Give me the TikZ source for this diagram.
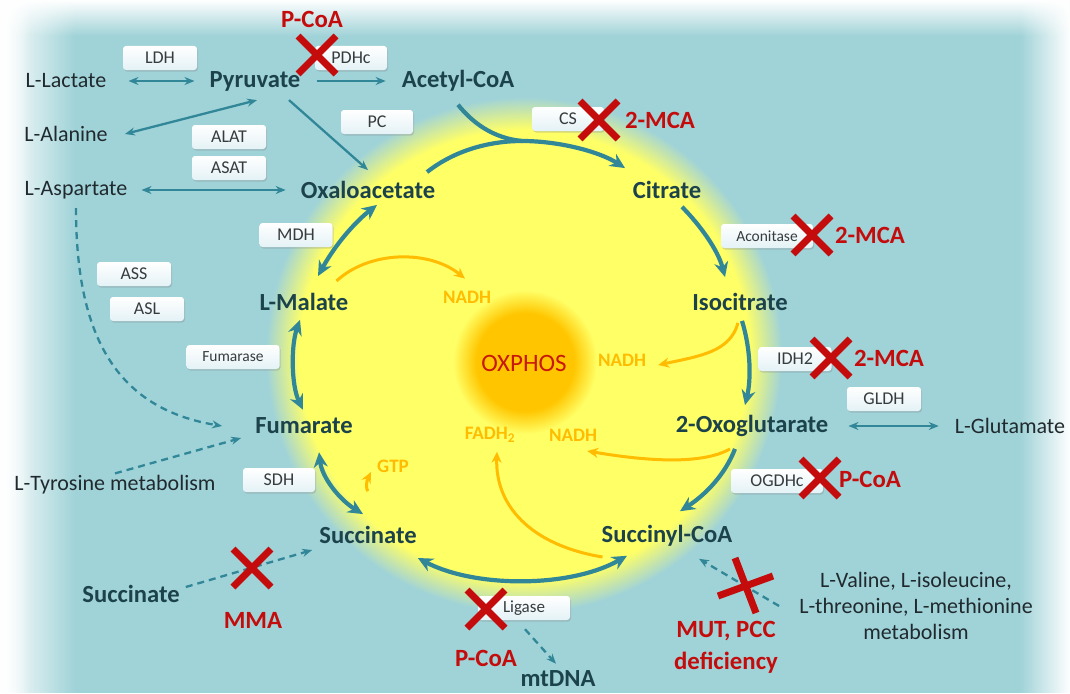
\documentclass[tikz,border=0pt]{standalone}
\usepackage{fontspec}
\setmainfont{Carlito}
\usetikzlibrary{arrows.meta,shadows,fadings,calc}
\definecolor{bgteal}{RGB}{160,211,216}
\definecolor{glowyel}{RGB}{255,255,102}
\definecolor{oxo}{RGB}{255,198,0}
\definecolor{arr}{RGB}{49,135,152}
\definecolor{metc}{RGB}{28,66,76}
\definecolor{regc}{RGB}{32,42,46}
\definecolor{redx}{RGB}{196,12,12}
\definecolor{orng}{RGB}{255,188,0}
\definecolor{oxred}{RGB}{200,24,10}
\definecolor{boxb}{RGB}{228,242,246}
\definecolor{enzt}{RGB}{55,60,62}
\pgfdeclareradialshading{glow}{\pgfpoint{0bp}{0bp}}{color(0bp)=(glowyel); color(21.8bp)=(glowyel); color(25bp)=(bgteal); color(50bp)=(bgteal)}
\pgfdeclareradialshading{sun}{\pgfpoint{0bp}{0bp}}{color(0bp)=(oxo); color(17bp)=(oxo); color(25bp)=(glowyel); color(50bp)=(glowyel)}
\tikzfading[name=fadeR, left color=transparent!0, right color=transparent!100]
\tikzfading[name=fadeL, left color=transparent!100, right color=transparent!0]
\tikzfading[name=fadeD, top color=transparent!0, bottom color=transparent!100]
\begin{document}
\begin{tikzpicture}[x=1pt,y=-1pt,
  met/.style={font=\bfseries\fontsize{24.6}{28}\selectfont, text=metc, inner sep=0pt},
  reg/.style={font=\fontsize{22}{26}\selectfont, text=regc, inner sep=0pt},
  enz/.style={top color=white, bottom color=boxb, rounded corners=3pt, minimum height=24pt, inner sep=2pt,
     font=\fontsize{18}{20}\selectfont, text=enzt,
     drop shadow={shadow xshift=1pt, shadow yshift=-1.5pt, opacity=0.3}},
  enzs/.style={enz, font=\fontsize{15.5}{18}\selectfont},
  redl/.style={font=\bfseries\fontsize{24.8}{27}\selectfont, text=redx, inner sep=0pt},
  orl/.style={font=\bfseries\fontsize{19}{22}\selectfont, text=orng, inner sep=0pt},
  sd/.style={draw=arr, line width=2.3pt, -{Stealth[length=10pt,width=8pt]}},
  sdd/.style={sd, {Stealth[length=10pt,width=8pt]}-{Stealth[length=10pt,width=8pt]}},
  dsh/.style={sd, dash pattern=on 7pt off 5pt},
  cyc/.style={draw=arr, line width=4.2pt, -{Stealth[length=15pt,width=14pt]}},
  cycn/.style={draw=arr, line width=4.2pt},
  cycd/.style={cyc, {Stealth[length=15pt,width=14pt]}-{Stealth[length=15pt,width=14pt]}},
  org/.style={draw=orng, line width=3pt, -{Stealth[length=11pt,width=10pt]}},
  xl/.style={draw=redx, line width=7pt},
  xmark/.pic={\draw[xl] (-19,-19) -- (19,19) (-19,19) -- (19,-19);}
]
\useasboundingbox (0,0) rectangle (1070,693);
% background
\fill[bgteal] (0,0) rectangle (1070,693);
\shade[shading=glow] (524,355) circle[radius=258];
\shade[shading=sun] (525,362) circle[radius=72];
\fill[white, path fading=fadeR] (0,0) rectangle (75,693);
\fill[white, path fading=fadeR] (0,0) rectangle (30,693);
\fill[white, path fading=fadeL] (1020,0) rectangle (1070,693);
\fill[white, path fading=fadeD] (0,0) rectangle (1070,36);

% metabolites
\node[reg] (lac) at (66,81) {L-Lactate};
\node[met] (pyr) at (255,81) {Pyruvate};
\node[met] (acoa) at (458,81) {Acetyl-CoA};
\node[reg] (ala) at (66,134) {L-Alanine};
\node[reg] (asp) at (76,190) {L-Aspartate};
\node[met] (oaa) at (368,190) {Oxaloacetate};
\node[met] (cit) at (667,190) {Citrate};
\node[met] (mal) at (304,302) {L-Malate};
\node[met] (iso) at (740,302) {Isocitrate};
\node[met] (fum) at (304,426) {Fumarate};
\node[met] (ogl) at (752,426) {2-Oxoglutarate};
\node[reg] (glu) at (1010,426) {L-Glutamate};
\node[reg] (tyr) at (115,485) {L-Tyrosine metabolism};
\node[met] (suc) at (368,535) {Succinate};
\node[met] (scoa) at (667,536) {Succinyl-CoA};
\node[met] (suc2) at (131,594) {Succinate};
\node[reg, align=center, font=\fontsize{22}{26}\selectfont] (bcaa) at (916,606) {L-Valine, L-isoleucine,\\L-threonine, L-methionine\\metabolism};
\node[met] (mtdna) at (558,679) {mtDNA};
\node[font=\fontsize{25}{28}\selectfont, text=oxred] (ox) at (524,363) {OXPHOS};

% orange labels
\node[orl] (n1) at (467,297) {NADH};
\node[orl] (n2) at (622,360) {NADH};
\node[orl] (fad) at (490,435) {FADH\textsubscript{2}};
\node[orl] (n3) at (573,435) {NADH};
\node[orl] (gtp) at (393,466) {GTP};

% enzyme boxes
\node[enz, minimum width=74pt] (ldh) at (160,58) {LDH};
\node[enz, minimum width=72pt] (pdh) at (351,58) {PDHc};
\node[enz, minimum width=72pt] (pc) at (377,122) {PC};
\node[enz, minimum width=74pt] (alat) at (229,137) {ALAT};
\node[enz, minimum width=74pt] (asat) at (229,168) {ASAT};
\node[enz, minimum width=72pt] (cs) at (568,119) {CS};
\node[enzs, minimum width=92pt] (aco) at (767,236) {Aconitase};
\node[enz, minimum width=73pt] (mdh) at (296,235) {MDH};
\node[enz, minimum width=74pt] (ass) at (134,274) {ASS};
\node[enz, minimum width=74pt] (asl) at (147,309) {ASL};
\node[enzs, minimum width=93pt] (fuma) at (233,357) {Fumarase};
\node[enz, minimum width=73pt] (idh) at (795,359) {IDH2};
\node[enz, minimum width=74pt] (gldh) at (884,399) {GLDH};
\node[enz, minimum width=92pt] (ogdh) at (777,481) {OGDHc};
\node[enz, minimum width=72pt] (sdh) at (279,480) {SDH};
\node[enzs, minimum width=92pt, font=\fontsize{17}{19}\selectfont] (lig) at (524,608) {Ligase};

% side reactions
\draw[sdd] ($(lac.east)+(22,0)$) -- ($(pyr.west)+(-15,0)$);
\draw[sd] ($(pyr.east)+(16,0)$) -- ($(acoa.west)+(-16,0)$);
\draw[sdd] ($(ala.east)+(17,0)$) -- ($(pyr.south)+(2,9)$);
\draw[sd] ($(pyr.south)+(34,9)$) -- ($(oaa.north)+(0,-11)$);
\draw[sdd] ($(asp.east)+(14,0)$) -- ($(oaa.west)+(-15,0)$);
\draw[sdd] ($(ogl.east)+(20,0)$) -- ($(glu.west)+(-16,0)$);

% dashed
\draw[dsh] ($(asp.south)+(0,9)$) .. controls (76,330) and (112,408) .. ($(fum.west)+(-33,0)$);
\draw[dsh] ($(tyr.north)+(0,-2)$) -- ($(fum.west)+(-14,12)$);
\draw[dsh] ($(suc2.east)+(6,-7)$) -- ($(suc.west)+(-7,15)$);
\draw[dsh] ($(bcaa.west)+(-20,0)$) -- ($(scoa.south)+(32,12)$);
\draw[dsh] ($(lig.south)+(1,9)$) -- ($(mtdna.north)+(-2,-7)$);

% TCA cycle
\coordinate (mrg) at (522,141);
\draw[cycn] ($(oaa.north)+(59,-9)$) .. controls (455,150) and (490,141) .. (mrg);
\draw[cycn] ($(acoa.south)+(0,13)$) .. controls (472,122) and (492,138) .. (mrg);
\draw[cyc] (mrg) .. controls (560,141) and (600,152) .. ($(cit.north)+(-42,-13)$);
\draw[cyc] ($(cit.south)+(15,8)$) .. controls (700,225) and (718,250) .. ($(iso.north)+(-15,-16)$);
\draw[cyc] ($(iso.south)+(2,10)$) .. controls (751,350) and (751,380) .. ($(ogl.north)+(-7,-10)$);
\draw[cyc] ($(ogl.south)+(-17,12)$) .. controls (725,475) and (705,495) .. ($(scoa.north)+(13,-14)$);
\draw[cycd] ($(scoa.south)+(-40,9)$) .. controls (570,588) and (475,588) .. ($(suc.east)+(1,23)$);
\draw[cycd] ($(suc.north)+(-5,-12)$) .. controls (340,500) and (322,478) .. ($(fum.south)+(15,18)$);
\draw[cycd] ($(fum.north)+(-1,-8)$) .. controls (291,385) and (291,345) .. ($(mal.south)+(-4,9)$);
\draw[cycd] ($(mal.north)+(14,-17)$) .. controls (335,245) and (355,222) .. ($(oaa.south)+(9,6)$);

% orange
\draw[org] ($(mal.east)+(-12,-21)$) .. controls (370,250) and (430,250) .. ($(n1.north)+(-2,-12)$);
\draw[org] ($(iso.south)+(-2,12)$) .. controls (730,352) and (700,356) .. ($(n2.east)+(12,5)$);
\draw[org] ($(ogl.south)+(-22,12)$) .. controls (700,466) and (640,460) .. ($(n3.east)+(-10,16)$);
\draw[org] ($(scoa.west)+(1,21)$) .. controls (530,545) and (495,505) .. ($(fad.south)+(7,9)$);
\draw[org] ($(suc.north)+(0,-35)$) .. controls (366,490) and (366,482) .. ($(gtp.west)+(-6,6)$);

% inhibitions
\pic at (317,55) {xmark};
\pic at (599,120) {xmark};
\pic at (812,235) {xmark};
\pic at (831,358) {xmark};
\pic at (820,478) {xmark};
\pic at (252,568) {xmark};
\pic at (486,609) {xmark};
\draw[xl] (718,596) -- (773,576) (735,558) -- (756,613);
\node[redl] (r1) at (312,19) {P-CoA};
\node[redl] (r2) at (660,120) {2-MCA};
\node[redl] (r3) at (870,235) {2-MCA};
\node[redl] (r4) at (889,358) {2-MCA};
\node[redl] (r5) at (870,479) {P-CoA};
\node[redl] (r6) at (253,620) {MMA};
\node[redl] (r7) at (486,658) {P-CoA};
\node[redl, align=center, font=\bfseries\fontsize{24.8}{32}\selectfont] (r8) at (726,647) {MUT, PCC\\deficiency};
\end{tikzpicture}
\end{document}
